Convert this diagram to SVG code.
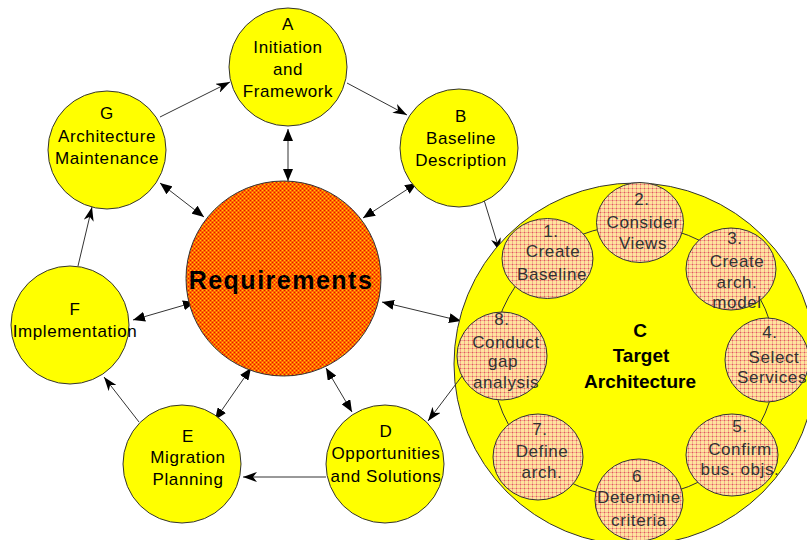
<svg xmlns="http://www.w3.org/2000/svg" width="807" height="540" viewBox="0 0 807 540">
<style>
.node{fill:#ffff00;stroke:#333;stroke-width:1}
.sub{fill:url(#subPat);stroke:#333;stroke-width:1}
.t{font-family:"Liberation Sans",Arial,sans-serif;font-size:17px;letter-spacing:0.6px;fill:#000;text-anchor:middle}
.st{font-family:"Liberation Sans",Arial,sans-serif;font-size:17px;letter-spacing:0.6px;fill:#333;text-anchor:middle}
.b{font-family:"Liberation Sans",Arial,sans-serif;font-weight:bold;font-size:19px;fill:#000;text-anchor:middle}
.c{stroke:#333;stroke-width:1;fill:none}
.one{marker-end:url(#stealth)}
.two{marker-start:url(#tri);marker-end:url(#tri)}
</style>
<defs>
<pattern id="reqPat" width="4" height="4" patternUnits="userSpaceOnUse">
<rect width="4" height="4" fill="#ff6600"/>
<rect x="0" y="0" width="1" height="1" fill="#ffcc00"/>
<rect x="2" y="2" width="1" height="1" fill="#ffcc00"/>
<rect x="2" y="0" width="1" height="1" fill="#e81000"/>
<rect x="0" y="2" width="1" height="1" fill="#e81000"/>
</pattern>
<pattern id="subPat" width="4" height="4" patternUnits="userSpaceOnUse">
<rect width="4" height="4" fill="#ffe49c"/>
<rect x="0" y="0" width="4" height="1" fill="#f2a890"/>
<rect x="0" y="0" width="1" height="4" fill="#f2a890"/>
<rect x="0" y="0" width="1" height="1" fill="#e46050"/>
</pattern>
<marker id="stealth" viewBox="0 0 14 10" refX="14" refY="5" markerWidth="14" markerHeight="10" markerUnits="userSpaceOnUse" orient="auto">
<path d="M0,0 L14,5 L0,10 L4,5 z" fill="#000"/>
</marker>
<marker id="tri" viewBox="0 0 12 10" refX="12" refY="5" markerWidth="12" markerHeight="10" markerUnits="userSpaceOnUse" orient="auto-start-reverse">
<path d="M0,0 L12,5 L0,10 z" fill="#000"/>
</marker>
</defs>
<rect width="807" height="540" fill="#fff"/>

<g id="connectors">
<line class="c one" x1="160" y1="117" x2="230" y2="82"/>
<line class="c one" x1="347" y1="83" x2="407" y2="115"/>
<line class="c one" x1="484" y1="200" x2="500" y2="252"/>
<line class="c one" x1="78" y1="266" x2="92" y2="207"/>
<line class="c one" x1="139" y1="422" x2="104" y2="377"/>
<line class="c one" x1="326" y1="477" x2="243" y2="477"/>
<line class="c two" x1="288" y1="129" x2="288" y2="181"/>
<line class="c two" x1="160" y1="183" x2="204" y2="217"/>
<line class="c two" x1="417" y1="183" x2="363" y2="218"/>
<line class="c two" x1="133" y1="320" x2="195" y2="302"/>
<line class="c two" x1="215" y1="420" x2="251" y2="368"/>
<line class="c two" x1="326" y1="368" x2="352" y2="412"/>
<line class="c two" x1="382" y1="302" x2="461" y2="321"/>
</g>

<g id="nodeA">
<circle class="node" cx="288" cy="67" r="59"/>
<text class="t" x="288" y="30">A</text>
<text class="t" x="288" y="53">Initiation</text>
<text class="t" x="288" y="75">and</text>
<text class="t" x="288" y="97">Framework</text>
</g>
<g id="nodeB">
<circle class="node" cx="459" cy="148" r="59"/>
<text class="t" x="461" y="122">B</text>
<text class="t" x="461" y="144">Baseline</text>
<text class="t" x="461" y="166">Description</text>
</g>
<g id="nodeG">
<circle class="node" cx="107" cy="150" r="59"/>
<text class="t" x="107" y="119">G</text>
<text class="t" x="107" y="142">Architecture</text>
<text class="t" x="107" y="164">Maintenance</text>
</g>
<g id="nodeF">
<circle class="node" cx="70" cy="325" r="59"/>
<text class="t" x="75" y="315">F</text>
<text class="t" x="75" y="337">Implementation</text>
</g>
<g id="nodeE">
<circle class="node" cx="182" cy="464" r="59"/>
<text class="t" x="188" y="442">E</text>
<text class="t" x="188" y="463">Migration</text>
<text class="t" x="188" y="485">Planning</text>
</g>
<g id="nodeD">
<circle class="node" cx="385" cy="464" r="59"/>
<text class="t" x="386" y="437">D</text>
<text class="t" x="386" y="459">Opportunities</text>
<text class="t" x="386" y="482">and Solutions</text>
</g>
<g id="requirements">
<circle cx="283.5" cy="278.5" r="97.5" fill="url(#reqPat)" stroke="#333" stroke-width="1"/>
<text x="281" y="289" font-family="'Liberation Sans',Arial,sans-serif" font-weight="bold" font-size="25" letter-spacing="1.5" text-anchor="middle" fill="#000">Requirements</text>
</g>

<g id="nodeC">
<circle class="node" cx="635" cy="364" r="181"/>
<ellipse cx="634" cy="361" rx="142" ry="136" class="c"/>
<text class="b" x="640" y="337">C</text>
<text class="b" x="641" y="362">Target</text>
<text class="b" x="640" y="388">Architecture</text>
</g>
<g id="step1">
<ellipse class="sub" cx="547.5" cy="258.5" rx="45.5" ry="40"/>
<text class="st" x="551" y="237">1.</text>
<text class="st" x="553" y="257">Create</text>
<text class="st" x="552" y="280">Baseline</text>
</g>
<g id="step2">
<ellipse class="sub" cx="640" cy="222.5" rx="43.5" ry="40"/>
<text class="st" x="642" y="205">2.</text>
<text class="st" x="643" y="228">Consider</text>
<text class="st" x="643" y="249">Views</text>
</g>
<g id="step3">
<ellipse class="sub" cx="731" cy="269" rx="45" ry="41"/>
<text class="st" x="735" y="244">3.</text>
<text class="st" x="737" y="267">Create</text>
<text class="st" x="737" y="288">arch.</text>
<text class="st" x="737" y="308">model</text>
</g>
<g id="step4">
<ellipse class="sub" cx="767" cy="360" rx="42" ry="42"/>
<text class="st" x="770" y="338">4.</text>
<text class="st" x="774" y="363">Select</text>
<text class="st" x="772" y="383">Services</text>
</g>
<g id="step5">
<ellipse class="sub" cx="732" cy="455" rx="46" ry="41"/>
<text class="st" x="740" y="432">5.</text>
<text class="st" x="740" y="455">Confirm</text>
<text class="st" x="740" y="475">bus. objs.</text>
</g>
<g id="step6">
<ellipse class="sub" cx="639" cy="500" rx="44" ry="41"/>
<text class="st" x="637" y="482">6</text>
<text class="st" x="639" y="503">Determine</text>
<text class="st" x="639" y="526">criteria</text>
</g>
<g id="step7">
<ellipse class="sub" cx="538" cy="457" rx="45" ry="43"/>
<text class="st" x="540" y="435">7.</text>
<text class="st" x="542" y="457">Define</text>
<text class="st" x="542" y="478">arch.</text>
</g>
<g id="step8">
<ellipse class="sub" cx="502" cy="356" rx="45" ry="44"/>
<text class="st" x="502" y="325">8.</text>
<text class="st" x="506" y="348">Conduct</text>
<text class="st" x="503" y="367">gap</text>
<text class="st" x="506" y="388">analysis</text>
</g>
<g id="connectorsOver">
<line class="c one" x1="462" y1="376" x2="428" y2="421"/>
</g>
</svg>
